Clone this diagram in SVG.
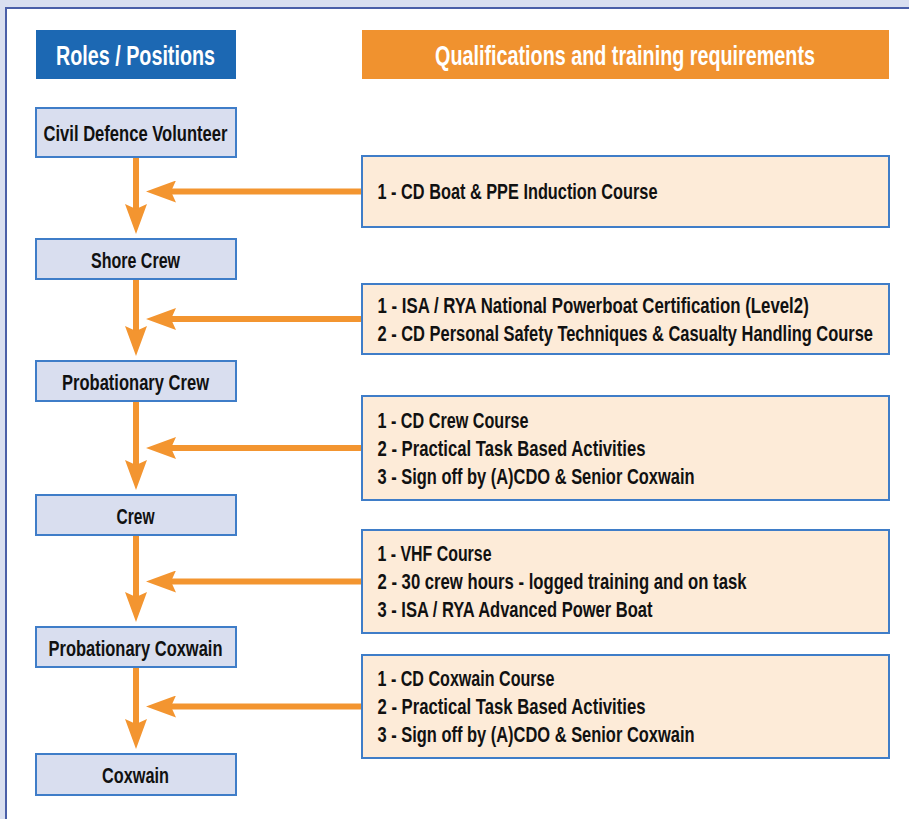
<svg xmlns="http://www.w3.org/2000/svg" width="909" height="819" viewBox="0 0 909 819">
  <defs>
    <marker id="head" markerUnits="userSpaceOnUse" markerWidth="30" markerHeight="22" viewBox="0 0 30 22" refX="8" refY="11" orient="auto">
      <path d="M0,0 L30,11 L0,22 L5,11 Z" fill="#f39530"/>
    </marker>
  </defs>
  <style>
    .role rect { fill: #d9deef; stroke: #3f7dc8; stroke-width: 2; }
    .req rect { fill: #fdebd8; stroke: #3f7dc8; stroke-width: 2; }
    .role text { font-family: "Liberation Sans Narrow", "Liberation Sans", Arial, sans-serif; font-weight: bold; font-size: 22.5px; fill: #111; text-anchor: middle; }
    .req text { font-family: "Liberation Sans Narrow", "Liberation Sans", Arial, sans-serif; font-weight: bold; font-size: 22.5px; fill: #111; }
    .hdr text { font-family: "Liberation Sans Narrow", "Liberation Sans", Arial, sans-serif; font-weight: bold; font-size: 27px; fill: #ffffff; text-anchor: middle; }
    text.wide { font-family: "Liberation Sans", Arial, sans-serif; }
    .conn line { stroke: #f39530; stroke-width: 6; marker-end: url(#head); }
  </style>

  <!-- frame -->
  <rect x="0" y="0" width="909" height="819" fill="#d9dff0"/>
  <rect x="6" y="8" width="903" height="811" fill="#ffffff"/>
  <path d="M6,819 V8 H909" fill="none" stroke="#4a5fa8" stroke-width="2"/>

  <!-- headers -->
  <g id="hdr-roles" class="hdr">
    <rect x="36" y="30" width="200" height="49" fill="#1c68b3"/>
    <text x="135.5" y="64.5" textLength="159" lengthAdjust="spacingAndGlyphs">Roles / Positions</text>
  </g>
  <g id="hdr-quals" class="hdr">
    <rect x="362" y="30" width="527" height="49" fill="#f0922f"/>
    <text class="wide" x="0" y="0" transform="translate(625,64.5) scale(0.732,1)">Qualifications and training requirements</text>
  </g>

  <!-- connectors -->
  <g id="connectors" class="conn">
    <line x1="136" y1="157" x2="136" y2="212"/>
    <line x1="136" y1="279" x2="136" y2="334"/>
    <line x1="136" y1="401" x2="136" y2="468"/>
    <line x1="136" y1="535" x2="136" y2="600"/>
    <line x1="136" y1="667" x2="136" y2="727"/>
    <line x1="362" y1="191.5" x2="168" y2="191.5"/>
    <line x1="362" y1="319" x2="168" y2="319"/>
    <line x1="362" y1="448" x2="168" y2="448"/>
    <line x1="362" y1="581.5" x2="168" y2="581.5"/>
    <line x1="362" y1="706.5" x2="168" y2="706.5"/>
  </g>

  <!-- role nodes -->
  <g id="role-volunteer" class="role">
    <rect x="36" y="108" width="200" height="49"/>
    <text x="135.5" y="141" textLength="184" lengthAdjust="spacingAndGlyphs">Civil Defence Volunteer</text>
  </g>
  <g id="role-shore-crew" class="role">
    <rect x="36" y="239" width="200" height="40"/>
    <text x="135.5" y="267.5" textLength="89" lengthAdjust="spacingAndGlyphs">Shore Crew</text>
  </g>
  <g id="role-probationary-crew" class="role">
    <rect x="36" y="361" width="200" height="40"/>
    <text x="135.5" y="389.5" textLength="147" lengthAdjust="spacingAndGlyphs">Probationary Crew</text>
  </g>
  <g id="role-crew" class="role">
    <rect x="36" y="495" width="200" height="40"/>
    <text x="135.5" y="523.5" textLength="38" lengthAdjust="spacingAndGlyphs">Crew</text>
  </g>
  <g id="role-probationary-coxwain" class="role">
    <rect x="36" y="627" width="200" height="40"/>
    <text x="135.5" y="655.5" textLength="174" lengthAdjust="spacingAndGlyphs">Probationary Coxwain</text>
  </g>
  <g id="role-coxwain" class="role">
    <rect x="36" y="754" width="200" height="41"/>
    <text x="135.5" y="782.5" textLength="67" lengthAdjust="spacingAndGlyphs">Coxwain</text>
  </g>

  <!-- requirement nodes -->
  <g id="req-1" class="req">
    <rect x="362" y="156" width="527" height="71"/>
    <text x="377.5" y="199" textLength="280" lengthAdjust="spacingAndGlyphs">1 - CD Boat &amp; PPE Induction Course</text>
  </g>
  <g id="req-2" class="req">
    <rect x="362" y="284" width="527" height="70"/>
    <text class="wide" x="0" y="0" transform="translate(377.5,312.5) scale(0.748,1)">1 - ISA / RYA National Powerboat Certification (Level2)</text>
    <text class="wide" x="0" y="0" transform="translate(377.5,340.5) scale(0.731,1)">2 - CD Personal Safety Techniques &amp; Casualty Handling Course</text>
  </g>
  <g id="req-3" class="req">
    <rect x="362" y="396" width="527" height="104"/>
    <text x="377.5" y="427.5" textLength="151" lengthAdjust="spacingAndGlyphs">1 - CD Crew Course</text>
    <text x="377.5" y="455.5" textLength="268" lengthAdjust="spacingAndGlyphs">2 - Practical Task Based Activities</text>
    <text x="377.5" y="483.5" textLength="317" lengthAdjust="spacingAndGlyphs">3 - Sign off by (A)CDO &amp; Senior Coxwain</text>
  </g>
  <g id="req-4" class="req">
    <rect x="362" y="530" width="527" height="103"/>
    <text x="377.5" y="561" textLength="114" lengthAdjust="spacingAndGlyphs">1 - VHF Course</text>
    <text x="377.5" y="589" textLength="369" lengthAdjust="spacingAndGlyphs">2 - 30 crew hours - logged training and on task</text>
    <text x="377.5" y="617" textLength="275" lengthAdjust="spacingAndGlyphs">3 - ISA / RYA Advanced Power Boat</text>
  </g>
  <g id="req-5" class="req">
    <rect x="362" y="655" width="527" height="103"/>
    <text x="377.5" y="686" textLength="177" lengthAdjust="spacingAndGlyphs">1 - CD Coxwain Course</text>
    <text x="377.5" y="714" textLength="268" lengthAdjust="spacingAndGlyphs">2 - Practical Task Based Activities</text>
    <text x="377.5" y="742" textLength="317" lengthAdjust="spacingAndGlyphs">3 - Sign off by (A)CDO &amp; Senior Coxwain</text>
  </g>
</svg>
